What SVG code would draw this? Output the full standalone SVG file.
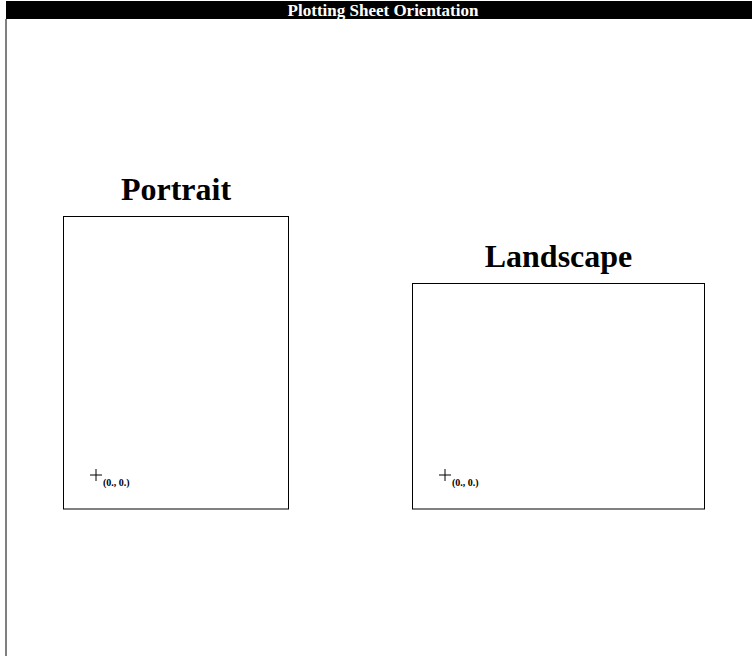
<svg xmlns="http://www.w3.org/2000/svg" width="752" height="656" viewBox="0 0 752 656">
  <style>
    .sheet { fill: #fff; stroke: #000; stroke-width: 1; }
    .heading { font-family: "Liberation Serif", "Times New Roman", serif; font-weight: bold; font-size: 32px; fill: #000; text-anchor: middle; }
    .origin { font-family: "Liberation Serif", "Times New Roman", serif; font-weight: bold; font-size: 10px; fill: #000; }
    .mark { stroke: #000; stroke-width: 1; fill: none; }
  </style>
  <defs>
    <path id="cross" d="M -6 0 H 6 M 0 -6 V 6"/>
  </defs>
  <rect width="752" height="656" fill="#fff"/>

  <!-- title bar and left frame edge -->
  <g id="title">
    <rect x="6" y="1" width="746" height="18" fill="#000"/>
    <text x="383" y="15.5" font-family="Liberation Serif, Times New Roman, serif" font-weight="bold" font-size="17" fill="#fff" text-anchor="middle">Plotting Sheet Orientation</text>
    <line x1="6" y1="19" x2="6" y2="656" stroke="#000" stroke-width="1"/>
  </g>

  <!-- portrait sheet -->
  <g id="portrait">
    <text class="heading" x="176" y="200">Portrait</text>
    <rect class="sheet" x="63.5" y="216.5" width="225" height="292.5"/>
    <use href="#cross" class="mark" x="96" y="475"/>
    <text class="origin" x="103" y="486">(0., 0.)</text>
  </g>

  <!-- landscape sheet -->
  <g id="landscape">
    <text class="heading" x="558.5" y="267">Landscape</text>
    <rect class="sheet" x="412.5" y="283.5" width="292" height="225.5"/>
    <use href="#cross" class="mark" x="445" y="475"/>
    <text class="origin" x="452" y="486">(0., 0.)</text>
  </g>

  <g id="connectors"/>
</svg>
